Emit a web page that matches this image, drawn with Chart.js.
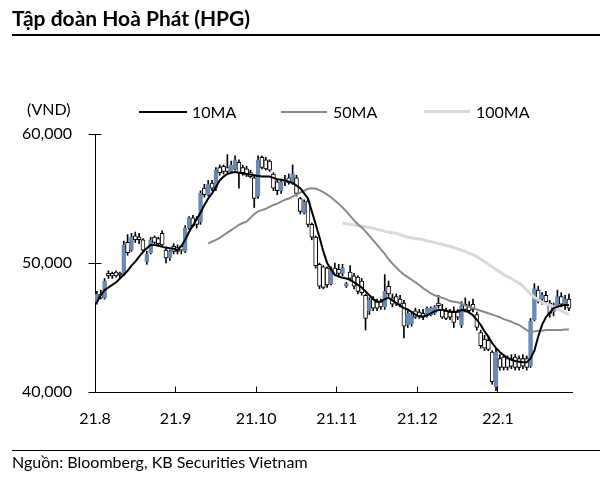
<!DOCTYPE html>
<html><head><meta charset="utf-8">
<script src="https://cdn.jsdelivr.net/npm/chart.js@4.4.1/dist/chart.umd.min.js"></script>
<style>
html,body{margin:0;padding:0;background:#fff;}
#wrap{position:relative;width:613px;height:477px;font-family:Lato,"Noto Sans",sans-serif;color:#000;overflow:hidden;background:#fff}
#c{position:absolute;left:0;top:0}
.t{position:absolute;white-space:nowrap;line-height:20px;height:20px;font-size:16px}
.title{position:absolute;left:12px;top:5px;font-size:21px;line-height:25px;font-weight:bold;white-space:nowrap}
.rule{position:absolute;left:12px;width:588px;height:0}
.lg{position:absolute;height:0}
</style></head>
<body><div id="wrap">
<canvas id="c" width="613" height="477"></canvas>
<div class="title">Tập đoàn Hoà Phát (HPG)</div>
<div class="rule" style="top:34px;border-top:2px solid #000"></div>
<div class="t" style="left:27px;top:99px">(VND)</div>
<div class="lg" style="left:139px;width:48px;top:111px;border-top:2px solid #000"></div>
<div class="t" style="left:192px;top:102px">10MA</div>
<div class="lg" style="left:281px;width:46px;top:111px;border-top:2px solid #8a8a8a"></div>
<div class="t" style="left:333px;top:102px">50MA</div>
<div class="lg" style="left:424px;width:46px;top:110px;border-top:3px solid #d9d9d9"></div>
<div class="t" style="left:476px;top:102px">100MA</div>
<div class="rule" style="top:450px;border-top:1.5px solid #000"></div>
<div class="t" style="left:12px;top:452px;font-size:16px">Nguồn: Bloomberg, KB Securities Vietnam</div>
</div>
<script>
// Month tick labels and their positions (in trading-day index units)
const monthLabels = ['21.8','21.9','21.10','21.11','21.12','22.1'];
const monthTickAt = [-0.5, 20.5, 41.5, 62.5, 83.5, 104.5];

// Daily OHLC (VND), Aug 2021 - Jan 2022
const open = [47000,47600,47300,49200,49200,49300,49200,49100,51600,51000,52100,52000,51800,50100,50800,52000,51900,52300,51000,50400,
51300,51200,51300,50900,52700,53500,53400,53200,55800,55300,56200,55800,57400,57500,57400,57100,57300,57800,57400,57300,
57000,56600,55200,58200,58000,57900,56900,56300,55600,56300,56600,56200,56600,55000,53900,54800,53000,52000,49900,49700,
49600,48400,49600,49500,49200,48200,49300,49000,48900,48600,47500,46300,47200,47000,47000,46600,48200,47300,47400,47200,
46900,45200,45300,46300,46200,46100,45900,46000,46100,46900,46400,46300,46200,46200,46200,45200,46800,46700,46800,46000,
44600,44100,44000,43100,40400,42600,42700,42600,42600,42700,42600,42600,42600,42000,45600,47900,47200,47500,46900,46200,
46600,47400,46800,47200];
const high = [47800,47900,48800,49400,49300,49400,49300,51700,52200,52300,52400,52300,51900,50900,52000,52100,52000,52500,51200,51000,
51500,51400,51400,52900,53600,53700,53600,55600,56100,56400,56400,57400,57600,57600,58400,57900,58300,58000,57600,57500,
57200,56800,58300,58300,58200,58000,57000,56500,56500,56800,56900,57600,56800,55100,54900,55000,53100,52100,50000,49800,
49700,49700,50000,49900,49900,48500,49800,49200,49000,48800,47600,47300,47400,47200,47200,49100,48600,47600,47600,47500,
47100,46300,46200,46500,46400,46400,46600,46600,46700,47500,46800,46500,46400,46600,46400,47000,47300,47000,47200,46200,
44800,44400,44300,43200,43400,42900,42900,42800,42900,42900,42800,42900,42800,45700,48400,48200,47700,47800,47100,46900,
47900,47700,47500,47600];
const low = [46800,47200,47200,48800,48800,48900,48800,49000,50600,50900,51600,51500,50900,49900,50700,51400,51300,51300,50000,50200,
50700,50700,50700,50800,52600,52800,52700,53000,55100,55200,55600,55600,56800,56900,57000,57000,57200,55800,56800,56700,
56600,54300,55000,57300,57200,57100,55600,55300,55400,56000,56100,56100,55200,53800,53800,52800,51800,49600,48000,48000,
48100,48300,49000,49000,49000,48100,48600,48000,47600,47500,44800,46000,46300,46300,46400,46400,47400,46600,46700,46600,
44200,45000,45100,45700,45700,45600,45800,45900,46000,46500,45700,45600,45600,45000,45600,45000,46200,46200,46200,44800,
43400,43200,43200,40600,40100,41700,41700,41700,41800,41700,41700,41800,41700,41900,45500,46900,46800,46800,45800,45900,
46500,46600,46400,46300];
const close = [47600,47300,48600,49000,49000,49000,49100,51400,50800,52000,51800,51800,51000,50700,51800,51600,51500,51400,50400,50900,
50900,50900,51000,52700,53500,52900,53000,55400,55300,56100,55800,57200,57000,57100,57100,57600,58000,57000,57000,56800,
56700,55000,58000,57400,57300,57200,55800,55600,56300,56500,56200,56900,55400,54000,54700,53000,52000,49800,48200,48100,
48300,49500,49100,49200,49600,48400,48800,48200,47800,47700,45700,47100,46500,46500,46600,47800,47600,46800,46900,46800,
45100,46100,46000,45800,45900,45800,46500,46500,46600,46700,45800,45700,45800,45400,45800,46700,46400,46300,46400,45000,
43600,43400,43300,40800,43100,41900,41900,41900,42000,41900,41900,42000,41900,45500,48000,47100,47500,47000,46100,46700,
47400,46800,47200,46500];

// Moving averages (VND)
const ma10 = [47000,47500,47900,48100,48300,48500,48800,49100,49400,49800,50100,50500,50850,51150,51400,51400,51350,51250,51200,51150,
51100,51000,51300,51800,52400,52900,53400,53900,54500,55000,55400,55900,56400,56700,56900,57000,57050,57000,56950,56900,
56850,56800,56750,56700,56700,56700,56600,56500,56450,56400,56300,56200,56000,55800,55400,55000,54000,53000,52000,50900,
50000,49500,49100,48950,48850,48800,48700,48500,48300,48100,47800,47500,47200,47000,47000,47200,47300,47100,46900,46700,
46500,46400,46200,46000,45850,45850,45950,46100,46250,46350,46350,46300,46250,46200,46250,46350,46300,46150,45950,45600,
45200,44700,44300,43800,43400,43100,42850,42650,42500,42400,42350,42300,42300,42600,43200,44300,45200,45800,46150,46500,
46600,46700,46750,46750];
const ma50Start = 29;
const ma50 = [51500,51650,51800,51950,52150,52350,52550,52750,52950,53100,53200,53500,53800,54000,54100,54200,54350,54500,54600,54750,
54900,55000,55150,55300,55450,55600,55750,55800,55750,55650,55500,55300,55100,54850,54600,54300,54000,53650,53300,53000,
52750,52450,52100,51750,51400,51050,50700,50300,49950,49650,49350,49100,48900,48700,48500,48300,48050,47850,47650,47500,
47400,47300,47200,47050,47000,46950,46850,46700,46600,46500,46400,46300,46200,46100,46000,45900,45800,45650,45550,45450,
45300,45200,45000,44800,44650,44700,44750,44750,44800,44800,44800,44800,44800,44850,44850];
const ma100Start = 64;
const ma100 = [53100,53050,53000,52950,52900,52850,52800,52750,52700,52600,52550,52450,52400,52350,52300,52200,52100,52000,51950,51900,
51850,51800,51700,51650,51600,51500,51450,51350,51300,51200,51100,51000,50900,50750,50650,50500,50300,50100,49900,49700,
49500,49300,49100,48950,48800,48600,48450,48200,47900,47600,47350,47150,46950,46850,46750,46600,46450,46300,46150,46000];

const UP = '#6a8ab3';
const FONT = {family: 'Lato, "Noto Sans", sans-serif', size: 16};

const idx = close.map((_, i) => i);
const isUp = idx.map(i => close[i] >= open[i]);

const tickMarks = {
  id: 'tickMarks',
  afterDraw(chart) {
    const {ctx} = chart, xs = chart.scales.x, ys = chart.scales.y;
    const al = p => Math.round(p - 0.5) + 0.5;
    ctx.save();
    ctx.strokeStyle = '#000'; ctx.lineWidth = 1;
    ctx.beginPath();
    const axX = al(xs.left);
    ys.ticks.forEach(t => {
      const py = al(ys.getPixelForValue(t.value));
      ctx.moveTo(axX - 7, py);
      ctx.lineTo(t.value > ys.min ? axX + 6 : axX, py);
    });
    const bot = al(ys.bottom);
    monthTickAt.forEach(v => {
      const px = al(xs.getPixelForValue(v));
      ctx.moveTo(px, bot);
      ctx.lineTo(px, bot - 6);
    });
    ctx.stroke();
    ctx.restore();
  }
};

new Chart(document.getElementById('c'), {
  type: 'bar',
  data: {
    datasets: [
      {type: 'line', label: '10MA', data: ma10.map((v, i) => ({x: i, y: v})),
       borderColor: '#000', borderWidth: 2, pointRadius: 0, order: 0},
      {type: 'line', label: '50MA', data: ma50.map((v, i) => ({x: ma50Start + i, y: v})),
       borderColor: '#8a8a8a', borderWidth: 2, pointRadius: 0, order: 1},
      {type: 'line', label: '100MA', data: ma100.map((v, i) => ({x: ma100Start + i, y: v})),
       borderColor: '#d9d9d9', borderWidth: 3, pointRadius: 0, order: 2},
      {type: 'bar', label: 'body', grouped: false, order: 3,
       data: idx.map(i => ({x: i, y: [Math.min(open[i], close[i]), Math.max(open[i], close[i])]})),
       backgroundColor: idx.map(i => isUp[i] ? UP : '#fff'),
       borderColor: idx.map(i => isUp[i] ? UP : '#000'),
       borderWidth: 1, borderSkipped: false, barThickness: 4},
      {type: 'bar', label: 'wick', grouped: false, order: 4,
       data: idx.map(i => ({x: i, y: [low[i], high[i]]})),
       backgroundColor: '#000', borderWidth: 0, barThickness: 1}
    ]
  },
  options: {
    responsive: false, animation: false, devicePixelRatio: 1,
    layout: {padding: {left: 0, right: 41, top: 134, bottom: 35}},
    plugins: {legend: {display: false}, tooltip: {enabled: false}},
    scales: {
      x: {
        type: 'linear', min: -0.5, max: 123.8, offset: false,
        grid: {display: false, drawTicks: false, offset: false},
        border: {display: true, color: '#000', width: 1},
        ticks: {font: FONT, color: '#000', padding: 17, maxRotation: 0, autoSkip: false,
                callback: (v, i) => monthLabels[i]},
        afterBuildTicks: s => { s.ticks = monthTickAt.map(v => ({value: v})); },
        afterFit: s => { s.height = 50; }
      },
      y: {
        min: 40000, max: 60000,
        grid: {display: false, drawTicks: false},
        border: {display: true, color: '#000', width: 1},
        ticks: {font: FONT, color: '#000', padding: 23, stepSize: 10000,
                callback: v => v.toLocaleString('en-US')},
        afterFit: s => { s.width = 95; }
      }
    }
  },
  plugins: [tickMarks]
});
</script>
</body></html>
